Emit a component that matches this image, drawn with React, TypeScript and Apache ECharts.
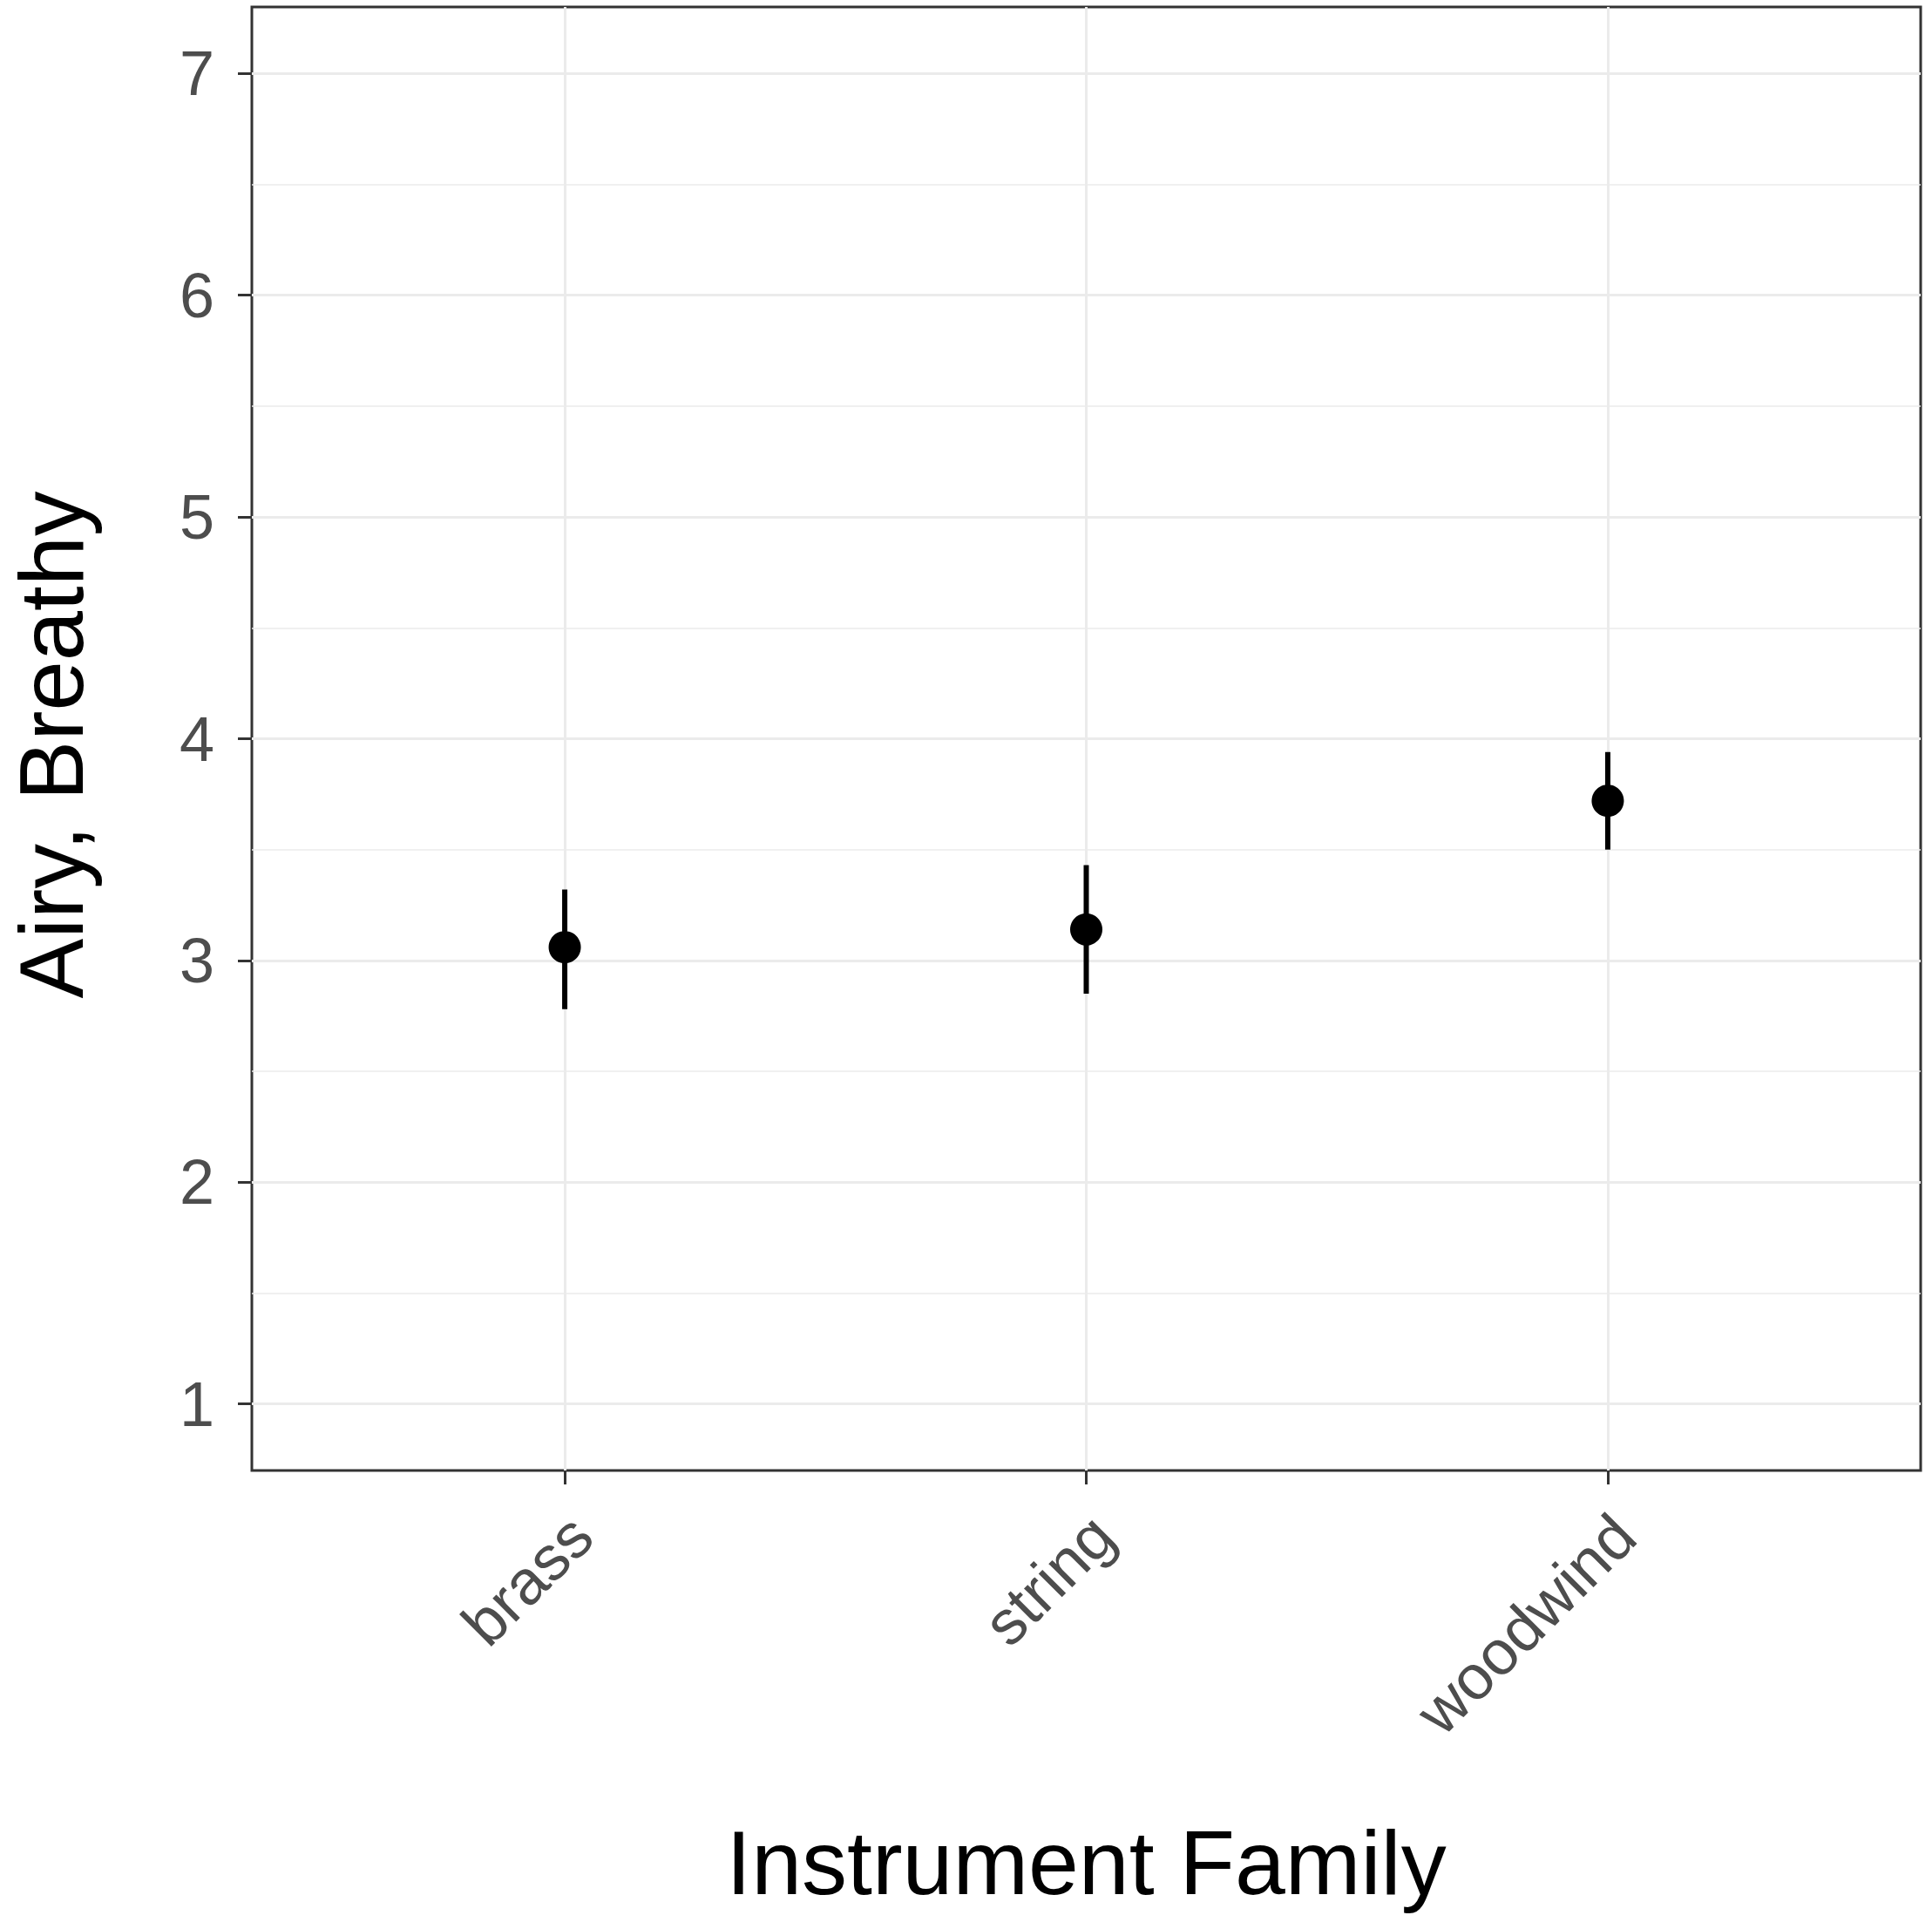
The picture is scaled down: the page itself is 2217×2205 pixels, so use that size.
import React, { useEffect, useRef } from 'react';
import * as echarts from 'echarts';

const categories = ['brass', 'string', 'woodwind'];
const means = [3.06, 3.14, 3.72];
const lowerCI = [2.78, 2.85, 3.5];
const upperCI = [3.32, 3.43, 3.94];
const yTicks = [1, 2, 3, 4, 5, 6, 7];
const yMinor = [1.5, 2.5, 3.5, 4.5, 5.5, 6.5];
const xTicks = [1, 2, 3];
const yTitle = 'Airy, Breathy';
const xTitle = 'Instrument Family';

export default function App() {
  const ref = useRef<HTMLDivElement>(null);

  useEffect(() => {
    if (!ref.current) return;
    const chart = echarts.init(ref.current, null, { renderer: 'svg' });
    const font = "'Liberation Sans', Arial, Helvetica, sans-serif";
    const gridColor = '#EBEBEB';

    const gridLines: any[] = [
      ...yTicks.map((v) => ({ yAxis: v, lineStyle: { width: 3, color: gridColor, type: 'solid' } })),
      ...yMinor.map((v) => ({ yAxis: v, lineStyle: { width: 1.5, color: gridColor, type: 'solid' } })),
      ...xTicks.map((v) => ({ xAxis: v, lineStyle: { width: 3, color: gridColor, type: 'solid' } })),
    ];

    chart.setOption({
      animation: false,
      backgroundColor: '#FFFFFF',
      textStyle: { fontFamily: font },
      grid: {
        left: 289,
        top: 8,
        right: 13,
        bottom: 518,
        show: true,
        borderColor: '#333333',
        borderWidth: 3,
        backgroundColor: 'transparent',
        containLabel: false,
        outerBoundsMode: 'none',
      },
      xAxis: {
        type: 'value',
        min: 0.4,
        max: 3.6,
        name: xTitle,
        nameLocation: 'middle',
        nameGap: 398,
        nameTextStyle: { fontSize: 104, color: '#000000', fontFamily: font },
        axisLine: { show: false },
        axisTick: {
          show: true,
          customValues: xTicks,
          length: 16,
          lineStyle: { color: '#333333', width: 3 },
        },
        axisLabel: {
          show: true,
          customValues: xTicks,
          rotate: 45,
          margin: 44,
          align: 'right',
          verticalAlign: 'top',
          lineHeight: 54,
          fontSize: 72,
          color: '#4D4D4D',
          fontFamily: font,
          formatter: (v: number) => categories[Math.round(v) - 1] ?? '',
        },
        splitLine: { show: false },
      },
      yAxis: {
        type: 'value',
        min: 0.7,
        max: 7.3,
        name: yTitle,
        nameLocation: 'middle',
        nameRotate: 90,
        nameGap: 185,
        nameTextStyle: {
          fontSize: 103,
          lineHeight: 90,
          color: '#000000',
          fontFamily: font,
          padding: [0, 14, 0, 0],
        },
        axisLine: { show: false },
        axisTick: {
          show: true,
          customValues: yTicks,
          length: 16,
          lineStyle: { color: '#333333', width: 3 },
        },
        axisLabel: {
          show: true,
          customValues: yTicks,
          margin: 43,
          fontSize: 72,
          color: '#4D4D4D',
          fontFamily: font,
          formatter: (v: number) => String(Math.round(v)),
        },
        splitLine: { show: false },
      },
      series: [
        {
          type: 'custom',
          name: 'ci',
          z: 3,
          silent: true,
          data: categories.map((_, i) => [i + 1, lowerCI[i], upperCI[i]]),
          encode: { x: 0, y: [1, 2] },
          renderItem: (_params: any, api: any) => {
            const x = api.value(0);
            const p1 = api.coord([x, api.value(1)]);
            const p2 = api.coord([x, api.value(2)]);
            return {
              type: 'line',
              shape: { x1: p1[0], y1: p1[1], x2: p2[0], y2: p2[1] },
              style: { stroke: '#000000', lineWidth: 6 },
            };
          },
        },
        {
          type: 'scatter',
          name: 'mean',
          z: 4,
          silent: true,
          symbol: 'circle',
          symbolSize: 37,
          itemStyle: { color: '#000000', opacity: 1 },
          data: categories.map((_, i) => [i + 1, means[i]]),
          markLine: {
            z: 1,
            silent: true,
            symbol: ['none', 'none'],
            label: { show: false },
            animation: false,
            data: gridLines,
          },
        },
      ],
    });

    return () => {
      chart.dispose();
    };
  }, []);

  return (
    <div
      ref={ref}
      style={{ position: 'absolute', left: 0, top: 0, width: 2217, height: 2205, background: '#FFFFFF' }}
    />
  );
}
